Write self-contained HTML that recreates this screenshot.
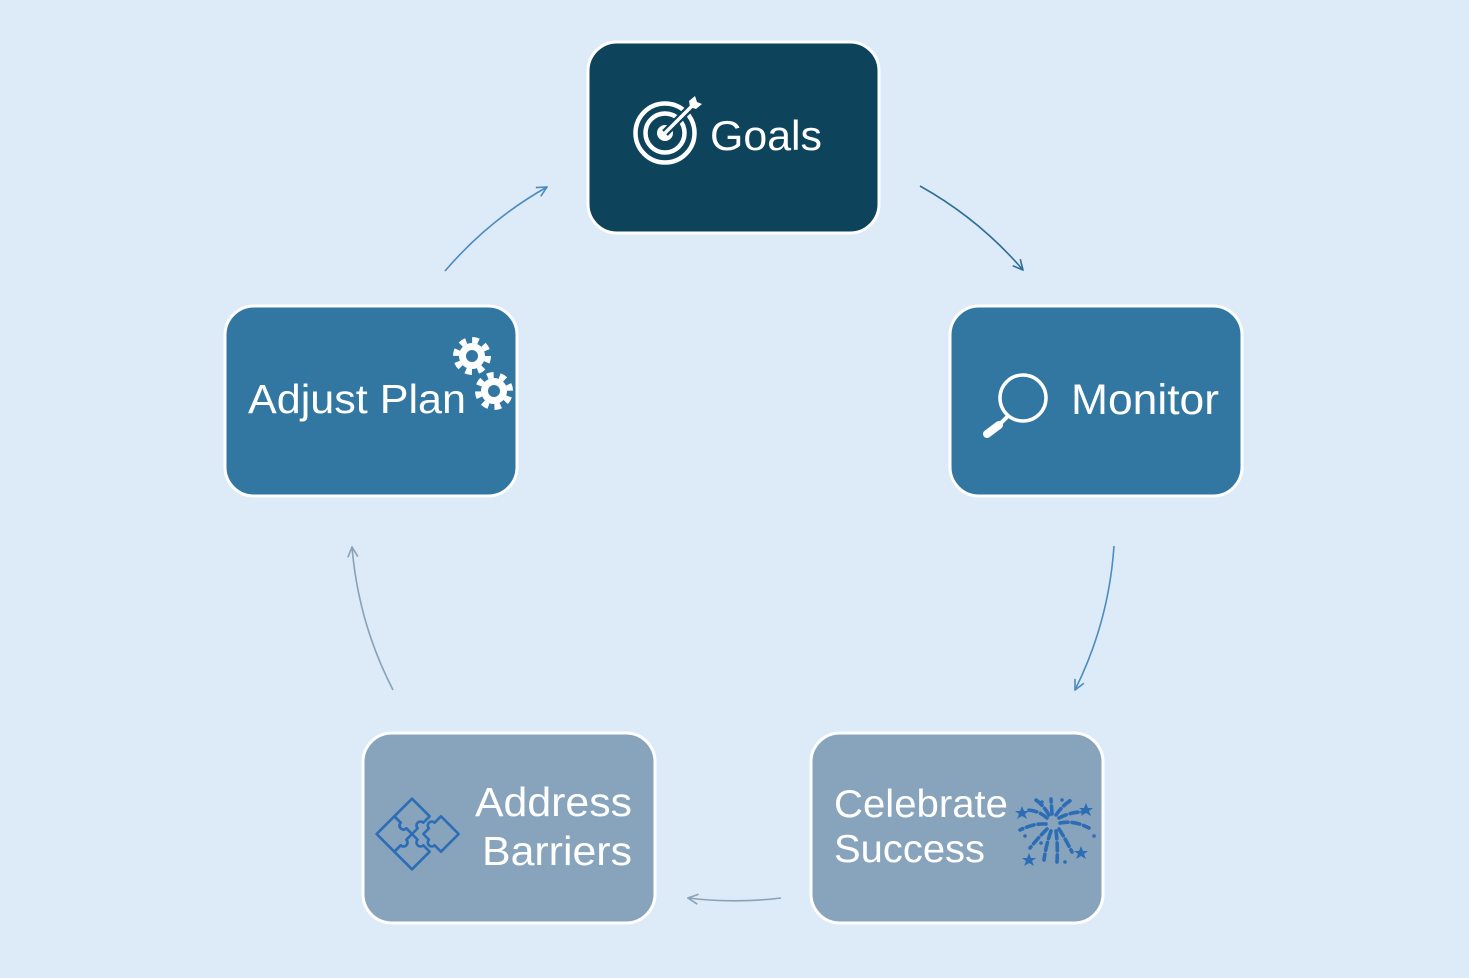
<!DOCTYPE html>
<html>
<head>
<meta charset="utf-8">
<style>
  html,body{margin:0;padding:0;background:#ddeaf7;}
  svg{display:block;}
  text{font-family:"Liberation Sans","DejaVu Sans",sans-serif;fill:#ffffff;}
</style>
</head>
<body>
<svg width="1469" height="978" viewBox="0 0 1469 978" xmlns="http://www.w3.org/2000/svg">
  <defs>
    <marker id="mA" viewBox="0 0 12 12" refX="11" refY="6" markerWidth="12" markerHeight="12" markerUnits="userSpaceOnUse" orient="auto">
      <path d="M1,1 L11,6 L1,11" fill="none" stroke="#4a8cc0" stroke-width="1.6"/>
    </marker>
    <marker id="mB" viewBox="0 0 12 12" refX="11" refY="6" markerWidth="12" markerHeight="12" markerUnits="userSpaceOnUse" orient="auto">
      <path d="M1,1 L11,6 L1,11" fill="none" stroke="#2f6f95" stroke-width="1.6"/>
    </marker>
    <marker id="mC" viewBox="0 0 12 12" refX="11" refY="6" markerWidth="12" markerHeight="12" markerUnits="userSpaceOnUse" orient="auto">
      <path d="M1,1 L11,6 L1,11" fill="none" stroke="#8aa2b7" stroke-width="1.6"/>
    </marker>
  </defs>

  <rect x="0" y="0" width="1469" height="978" fill="#ddeaf7"/>

  <!-- connectors -->
  <path d="M445,271 A381,381 0 0 1 547,187" fill="none" stroke="#4a8cc0" stroke-width="1.6" marker-end="url(#mA)"/>
  <path d="M920,186 A381,381 0 0 1 1023,270" fill="none" stroke="#2f6f95" stroke-width="1.6" marker-end="url(#mB)"/>
  <path d="M1114,546 A381,381 0 0 1 1075,690" fill="none" stroke="#4a8cc0" stroke-width="1.6" marker-end="url(#mA)"/>
  <path d="M781,898 A381,381 0 0 1 688,898" fill="none" stroke="#8aa2b7" stroke-width="1.6" marker-end="url(#mC)"/>
  <path d="M393,690 A381,381 0 0 1 352,547" fill="none" stroke="#8aa2b7" stroke-width="1.6" marker-end="url(#mC)"/>

  <!-- boxes -->
  <rect x="588" y="42" width="291" height="191" rx="29" fill="#0e435c" stroke="#ffffff" stroke-width="3"/>
  <rect x="225" y="306" width="292" height="190" rx="29" fill="#3277a2" stroke="#ffffff" stroke-width="3"/>
  <rect x="950" y="306" width="292" height="190" rx="29" fill="#3277a2" stroke="#ffffff" stroke-width="3"/>
  <rect x="363" y="733" width="292" height="190" rx="29" fill="#87a4bc" stroke="#ffffff" stroke-width="3"/>
  <rect x="811" y="733" width="292" height="190" rx="29" fill="#87a4bc" stroke="#ffffff" stroke-width="3"/>

  <!-- Goals icon: target -->
  <g>
    <circle cx="665" cy="133" r="29.5" fill="none" stroke="#ffffff" stroke-width="4.5"/>
    <circle cx="665" cy="133" r="19.5" fill="none" stroke="#ffffff" stroke-width="4.5"/>
    <circle cx="665" cy="133" r="8" fill="#ffffff"/>
    <line x1="665" y1="133" x2="693" y2="105" stroke="#0e435c" stroke-width="8"/>
    <line x1="665" y1="133" x2="693" y2="105" stroke="#ffffff" stroke-width="3.5"/>
    <path d="M689,101 L695,96 L697,102 L702,104 L696,109 L690,107 Z" fill="#ffffff"/>
  </g>
  <text x="710" y="150" font-size="42" textLength="112" lengthAdjust="spacingAndGlyphs">Goals</text>

  <!-- Monitor icon: magnifier -->
  <g>
    <circle cx="1023" cy="398" r="23" fill="none" stroke="#ffffff" stroke-width="3.5"/>
    <line x1="1008" y1="416" x2="998" y2="426" stroke="#ffffff" stroke-width="4" stroke-linecap="round"/>
    <line x1="999" y1="425" x2="987" y2="434" stroke="#ffffff" stroke-width="8" stroke-linecap="round"/>
  </g>
  <text x="1071" y="414" font-size="43" textLength="148" lengthAdjust="spacingAndGlyphs">Monitor</text>

  <!-- Adjust Plan -->
  <text x="248" y="413" font-size="41" textLength="218" lengthAdjust="spacingAndGlyphs">Adjust Plan</text>
  <g>
    <circle cx="472" cy="356" r="16" fill="none" stroke="#ffffff" stroke-width="6" stroke-dasharray="6.5 6.07"/>
    <circle cx="472" cy="356" r="9.5" fill="none" stroke="#ffffff" stroke-width="7"/>
    <circle cx="494" cy="391" r="16" fill="none" stroke="#ffffff" stroke-width="6" stroke-dasharray="6.5 6.07" transform="rotate(20 494 391)"/>
    <circle cx="494" cy="391" r="9.5" fill="none" stroke="#ffffff" stroke-width="7"/>
  </g>

  <!-- Address Barriers -->
  <g transform="translate(412 834) rotate(45)" fill="none" stroke="#2d6db5" stroke-width="2.6" stroke-linejoin="round">
    <path d="M-25,-25 L0,-25 L0,-16 A4,4 0 0 0 0,-8 L0,0 L-8,0 A4,4 0 0 1 -16,0 L-25,0 Z"/>
    <path d="M-25,0 L-16,0 A4,4 0 0 0 -8,0 L0,0 L0,8 A4,4 0 0 1 0,16 L0,25 L-25,25 Z"/>
    <path d="M0,0 L8,0 A4,4 0 0 0 16,0 L25,0 L25,25 L0,25 L0,16 A4,4 0 0 0 0,8 Z"/>
    <g transform="translate(8 -8)">
      <path d="M0,-25 L25,-25 L25,0 L16,0 A4,4 0 0 1 8,0 L0,0 L0,-8 A4,4 0 0 1 0,-16 Z"/>
    </g>
  </g>
  <text x="475" y="816" font-size="41" textLength="157" lengthAdjust="spacingAndGlyphs">Address</text>
  <text x="482" y="865" font-size="41" textLength="150" lengthAdjust="spacingAndGlyphs">Barriers</text>

  <!-- Celebrate Success -->
  <text x="834" y="817" font-size="39" textLength="174" lengthAdjust="spacingAndGlyphs">Celebrate</text>
  <text x="834" y="862" font-size="39" textLength="151" lengthAdjust="spacingAndGlyphs">Success</text>
  <g stroke="#2d6db5" stroke-width="3.6" stroke-linecap="round" fill="none" stroke-dasharray="8 4">
    <path d="M1047,818 Q1038,810 1026,810"/>
    <path d="M1049,815 Q1044,806 1036,800"/>
    <path d="M1052,814 L1051,799"/>
    <path d="M1056,815 Q1062,806 1071,800"/>
    <path d="M1059,818 Q1070,812 1083,812"/>
    <path d="M1060,823 Q1074,820 1089,828"/>
    <path d="M1046,824 Q1034,823 1020,830"/>
    <path d="M1047,829 Q1038,838 1030,848"/>
    <path d="M1051,831 Q1046,845 1044,860"/>
    <path d="M1056,831 Q1058,846 1057,862"/>
    <path d="M1059,829 Q1066,840 1072,852"/>
  </g>
  <g fill="#2d6db5">
    <polygon points="1022,806 1024,811 1029,811 1025,814 1027,819 1022,816 1017,819 1019,814 1015,811 1020,811"/>
    <polygon points="1086,803 1088,808 1093,808 1089,811 1091,816 1086,813 1081,816 1083,811 1079,808 1084,808"/>
    <polygon points="1081,846 1083,851 1088,851 1084,854 1086,859 1081,856 1076,859 1078,854 1074,851 1079,851"/>
    <polygon points="1029,853 1031,858 1036,858 1032,861 1034,866 1029,863 1024,866 1026,861 1022,858 1027,858"/>
    <circle cx="1042" cy="802" r="1.8"/>
    <circle cx="1062" cy="800" r="1.8"/>
    <circle cx="1094" cy="836" r="1.8"/>
    <circle cx="1041" cy="843" r="1.8"/>
    <circle cx="1065" cy="862" r="1.8"/>
    <circle cx="1025" cy="836" r="1.8"/>
  </g>
</svg>
</body>
</html>
